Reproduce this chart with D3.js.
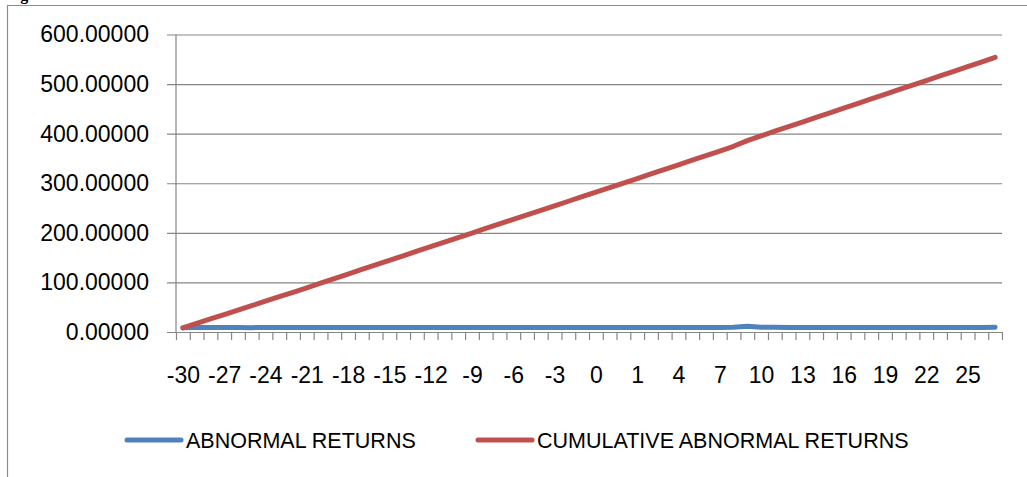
<!DOCTYPE html>
<html>
<head>
<meta charset="utf-8">
<script src="https://cdn.jsdelivr.net/npm/d3@7/dist/d3.min.js"></script>
<style>
  html, body { margin: 0; padding: 0; background: #ffffff; }
  svg { display: block; }
  .tick text { font-family: "Liberation Sans", Arial, sans-serif; fill: #000; }
</style>
</head>
<body>
<svg id="chart" width="1027" height="477"></svg>
<script>
// Event window days (x categories)
const days = [
  "-30","-29","-28","-27","-26","-25","-24","-23","-22","-21",
  "-20","-19","-18","-17","-16","-15","-14","-13","-12","-11",
  "-10","-9","-8","-7","-6","-5","-4","-3","-2","-1",
  "0","0","0","1","2","3","4","5","6","7",
  "8","9","10","11","12","13","14","15","16","17",
  "18","19","20","21","22","23","24","25","26","27"
];

// Daily abnormal returns
const abnormalReturns = [
  8.4, 8.9, 9.0, 8.9, 9.1, 8.8, 9.0, 9.1, 8.9, 9.0,
  9.3, 9.2, 9.3, 9.2, 9.1, 9.3, 9.2, 9.3, 9.1, 9.2,
  9.2, 9.1, 9.2, 9.1, 9.2, 9.1, 9.2, 9.1, 9.2, 9.1,
  9.2, 9.1, 9.2, 9.2, 9.3, 9.2, 9.3, 9.2, 9.3, 9.2,
  9.5, 11.4, 9.6, 9.4, 9.3, 9.3, 9.3, 9.3, 9.3, 9.3,
  9.3, 9.3, 9.3, 9.3, 9.3, 9.3, 9.3, 9.3, 9.3, 9.4
];

// Cumulative abnormal returns
const cumulativeReturns = [
  8.4, 17.3, 26.3, 35.2, 44.3, 53.1, 62.1, 71.2, 80.1, 89.1,
  98.4, 107.6, 116.9, 126.1, 135.2, 144.5, 153.7, 163.0, 172.1, 181.3,
  190.5, 199.6, 208.8, 217.9, 227.1, 236.2, 245.4, 254.5, 263.7, 272.8,
  282.0, 291.1, 300.3, 309.5, 318.8, 328.0, 337.3, 346.5, 355.8, 365.0,
  374.5, 385.9, 395.5, 404.9, 414.2, 423.5, 432.8, 442.1, 451.4, 460.7,
  470.0, 479.3, 488.6, 497.9, 507.2, 516.5, 525.8, 535.1, 544.4, 553.8
];

const yTicks = [0, 100, 200, 300, 400, 500, 600];

const seriesNames = ["ABNORMAL RETURNS", "CUMULATIVE ABNORMAL RETURNS"];
const seriesColors = ["#4F81BD", "#C0504D"];

const svg = d3.select("#chart");

// Plot area
const plot = { left: 176, right: 1002, top: 34.5, bottom: 332 };
const gridColor = "#868686";

const idx = d3.range(days.length);
const xBand = d3.scaleBand().domain(idx).range([plot.left, plot.right]).paddingInner(0).paddingOuter(0);
const xCenter = i => xBand(i) + xBand.bandwidth() / 2;
const xEdges = d3.scaleLinear().domain([0, days.length]).range([plot.left, plot.right]);
const y = d3.scaleLinear().domain([0, 600]).range([plot.bottom, plot.top]);

// Outer frame (left and top edges)
svg.append("line").attr("x1", 7.5).attr("x2", 7.5).attr("y1", 5).attr("y2", 477)
  .attr("stroke", "#8c8c8c").attr("stroke-width", 1.2);
svg.append("line").attr("x1", 7).attr("x2", 1027).attr("y1", 5.5).attr("y2", 5.5)
  .attr("stroke", "#8c8c8c").attr("stroke-width", 1.2);

// Caption, clipped by the top of the page
svg.append("text").attr("x", 6).attr("y", -0.5)
  .attr("font-family", "'Liberation Serif', 'Times New Roman', serif")
  .attr("font-weight", "bold").attr("font-size", 16).text("Figure");

// Y axis with gridlines
const yAxis = d3.axisLeft(y).tickValues(yTicks).tickFormat(d3.format(".5f"))
  .tickSizeInner(-(plot.right - 167)).tickSizeOuter(0).tickPadding(18);
const gy = svg.append("g").attr("transform", "translate(167,0)").call(yAxis);
gy.select(".domain").remove();
gy.selectAll(".tick line").attr("stroke", gridColor).attr("stroke-width", 1.2);
gy.selectAll(".tick text").attr("font-size", 23);

// Vertical axis line
svg.append("line").attr("x1", plot.left).attr("x2", plot.left)
  .attr("y1", y(600)).attr("y2", y(0)).attr("stroke", gridColor).attr("stroke-width", 1.2);

// X axis: tick marks between categories
const xTickAxis = d3.axisBottom(xEdges).tickValues(d3.range(days.length + 1))
  .tickFormat("").tickSizeInner(8).tickSizeOuter(0);
const gxt = svg.append("g").attr("transform", `translate(0,${plot.bottom})`).call(xTickAxis);
gxt.select(".domain").attr("stroke", gridColor).attr("stroke-width", 1.2);
gxt.selectAll(".tick line").attr("stroke", gridColor).attr("stroke-width", 1.2);

// X axis: labels on every third category
const xLabelScale = d3.scalePoint().domain(idx).range([xCenter(0), xCenter(days.length - 1)]);
const xLabelAxis = d3.axisBottom(xLabelScale).tickValues(idx.filter(i => i % 3 === 0))
  .tickFormat(i => days[i]).tickSize(0).tickPadding(35);
const gxl = svg.append("g").attr("transform", `translate(0,${plot.bottom})`).call(xLabelAxis);
gxl.select(".domain").remove();
gxl.selectAll(".tick text").attr("font-size", 23);

// Series lines
const line = d3.line().x((d, i) => xCenter(i)).y(d => y(d)).curve(d3.curveLinear);
[abnormalReturns, cumulativeReturns].forEach((vals, k) => {
  svg.append("path").datum(vals).attr("d", line)
    .attr("fill", "none").attr("stroke", seriesColors[k]).attr("stroke-width", 5)
    .attr("stroke-linecap", "round").attr("stroke-linejoin", "round");
});

// Legend
const legendY = 440;
const legendItems = [
  { x1: 127, x2: 181, tx: 186 },
  { x1: 478, x2: 532, tx: 537 }
];
legendItems.forEach((it, k) => {
  svg.append("line").attr("x1", it.x1).attr("x2", it.x2).attr("y1", legendY).attr("y2", legendY)
    .attr("stroke", seriesColors[k]).attr("stroke-width", 5).attr("stroke-linecap", "round");
  svg.append("text").attr("x", it.tx).attr("y", legendY).attr("dy", "0.35em")
    .attr("font-family", "'Liberation Sans', Arial, sans-serif").attr("font-size", 21.5)
    .attr("fill", "#000").text(seriesNames[k]);
});
</script>
</body>
</html>
